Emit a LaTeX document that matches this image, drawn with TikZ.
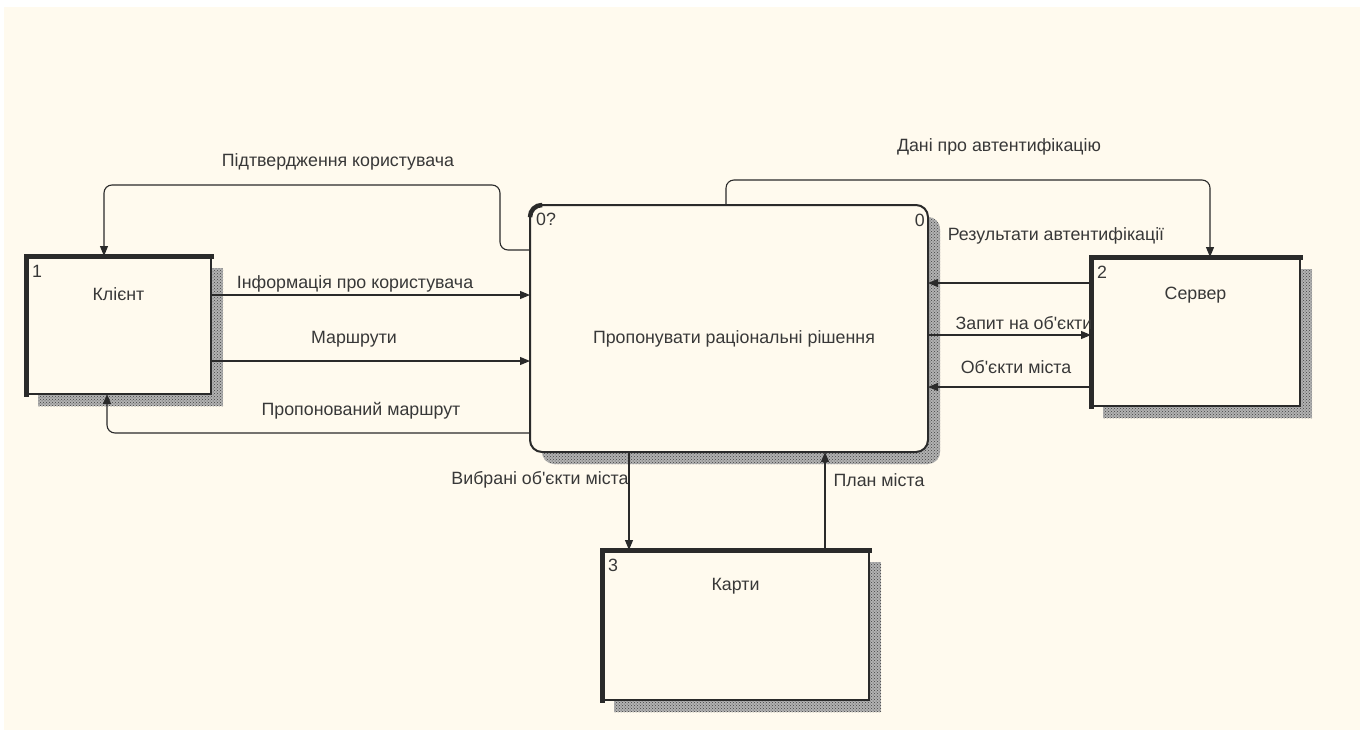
\documentclass[tikz,border=0pt]{standalone}
\usepackage{fontspec}
\setmainfont{Liberation Sans}
\usetikzlibrary{calc,arrows.meta,patterns}
\definecolor{paper}{HTML}{FFFAEE}
\definecolor{ink}{HTML}{2A2A2A}
\definecolor{txt}{HTML}{383838}
\begin{document}
\begin{tikzpicture}[x=1pt,y=-1pt,
  font=\fontsize{17.8}{21}\selectfont,
  every node/.style={text=txt},
  box/.style={draw=ink, line width=1.6, fill=paper, rectangle, outer sep=0pt, inner sep=0pt},
  procbox/.style={box, rounded corners=12, line width=2},
  edgebar/.style={line width=5, ink, line cap=rect},
  shadebase/.style={fill=black!30},
  shade/.style={pattern=crosshatch dots, pattern color=black!75},
  flow/.style={draw=ink, line width=1.1, -{Triangle[length=10,width=8]}},
  lbl/.style={inner sep=1pt},
  num/.style={inner sep=0pt, anchor=west}]
% page
\fill[white] (0,0) rectangle (1367,731);
\fill[paper] (4,7) rectangle (1360,730);
\useasboundingbox (0,0) rectangle (1367,731);

% shadows
\foreach \s in {shadebase, shade} {
  \fill[\s] (38,268) rectangle (223,406);
  \fill[\s, rounded corners=12] (542,217) rectangle (940,464);
  \fill[\s] (1103,269) rectangle (1312,418);
  \fill[\s] (614,562) rectangle (881,712);
}

% boxes
\node[box, minimum width=185, minimum height=138] (client) at (118.5,325) {};
\node[procbox, minimum width=398, minimum height=247] (main) at (729,328.5) {};
\node[box, minimum width=209, minimum height=149] (server) at (1195.5,331.5) {};
\node[box, minimum width=267, minimum height=150] (maps) at (735.5,625) {};

% heavy left and top edges of the external entities
\draw[edgebar] (client.south west) -- (client.north west) -- (client.north east);
\draw[edgebar] (server.south west) -- (server.north west) -- (server.north east);
\draw[edgebar] (maps.south west) -- (maps.north west) -- (maps.north east);
\draw[line width=4.5, ink, rounded corners=12] ($(main.north west)+(0,11)$) -- (main.north west) -- ($(main.north west)+(11,0)$);

% box texts
\node at ($(client.north)+(0,38)$) {Клієнт};
\node at ($(server.north)+(0,38)$) {Сервер};
\node at ($(maps.north)+(0,36)$) {Карти};
\node at ($(main.center)+(5,10)$) {Пропонувати раціональні рішення};
\node[num] at ($(client.north west)+(6,15)$) {1};
\node[num] at ($(server.north west)+(6,15)$) {2};
\node[num] at ($(maps.north west)+(6,15)$) {3};
\node[num] at ($(main.north west)+(6,14)$) {0?};
\node[num, anchor=east] at ($(main.north east)+(-3,15)$) {0};

% data flows
\draw[flow, rounded corners=8] ($(main.north west)+(0,45)$) -- ++(-30,0) |- ($(client.north west)+(78,-71)$) -- ($(client.north west)+(78,0)$);
\draw[flow] ($(client.north east)+(0,39)$) -- ($(main.north west)+(0,90)$);
\draw[flow] ($(client.north east)+(0,105)$) -- ($(main.north west)+(0,156)$);
\draw[flow, rounded corners=8] ($(main.north west)+(0,228)$) -| ($(client.south west)+(81,0)$);
\draw[flow, rounded corners=8] ($(main.north west)+(196,0)$) |- ($(server.north west)+(119,-77)$) -- ($(server.north west)+(119,0)$);
\draw[flow] ($(server.north west)+(0,26)$) -- ($(main.north east)+(0,78)$);
\draw[flow] ($(main.north east)+(0,130)$) -- ($(server.north west)+(0,78)$);
\draw[flow] ($(server.north west)+(0,130)$) -- ($(main.north east)+(0,182)$);
\draw[flow] ($(main.south west)+(99,0)$) -- ($(maps.north west)+(27,0)$);
\draw[flow] ($(maps.north west)+(223,0)$) -- ($(main.south west)+(295,0)$);

% flow labels
\node[lbl] at (338,162) {Підтвердження користувача};
\node[lbl] at (355,284) {Інформація про користувача};
\node[lbl] at (354,339) {Маршрути};
\node[lbl] at (361,411) {Пропонований маршрут};
\node[lbl] at (999,147) {Дані про автентифікацію};
\node[lbl] at (1056,236) {Результати автентифікації};
\node[lbl] at (1024,323) {Запит на об\textquotesingle єкти};
\node[lbl] at (1016,367) {Об\textquotesingle єкти міста};
\node[lbl] at (540,480) {Вибрані об\textquotesingle єкти міста};
\node[lbl] at (879,480) {План міста};
\end{tikzpicture}
\end{document}
